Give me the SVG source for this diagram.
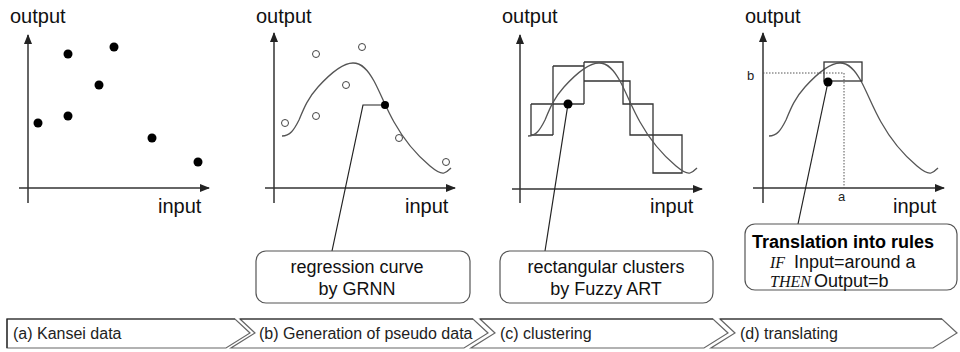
<svg xmlns="http://www.w3.org/2000/svg" width="960" height="352" viewBox="0 0 960 352">
<defs>
<marker id="arr" markerWidth="10" markerHeight="8" refX="9" refY="4" orient="auto" markerUnits="userSpaceOnUse">
<path d="M0,0 L10,4 L0,8 Z" fill="#222"/>
</marker>
<path id="curve" d="M282,136 C290,136 294,130 299,120 C304,108 308,98 318,87 C328,76 342,63 353,63 C362,63 368,70 374,81 C380,92 386,108 394,122 C404,140 418,156 430,166 C436,171 441,174 444,173 C447,172 449,170 451,168"/>
</defs>
<style>
.ax{stroke:#333;stroke-width:1.5;fill:none;marker-end:url(#arr)}
.lbl{font-family:"Liberation Sans",Arial,sans-serif;font-size:20px;fill:#111}
.sm{font-family:"Liberation Sans",Arial,sans-serif;font-size:13px;fill:#222}
.crv{stroke:#555;stroke-width:1.3;fill:none}
.dot{fill:#000}
.odot{fill:#fff;stroke:#444;stroke-width:1}
.lead{stroke:#222;stroke-width:1.2;fill:none}
.box{fill:#fff;stroke:#555;stroke-width:1.2}
.bt{font-family:"Liberation Sans",Arial,sans-serif;font-size:18px;fill:#111}
.bb{font-family:"Liberation Sans",Arial,sans-serif;font-size:18px;font-weight:bold;fill:#000}
.it{font-family:"Liberation Serif","Times New Roman",serif;font-style:italic;font-size:16px;fill:#111}
.chev{fill:#fff;stroke:#666;stroke-width:1.2}
.ctop{stroke:#222;stroke-width:1.2;fill:none}
.ct{font-family:"Liberation Sans",Arial,sans-serif;font-size:16px;fill:#222}
.rect{stroke:#333;stroke-width:1.3;fill:none}
.dotted{stroke:#555;stroke-width:1;stroke-dasharray:1.5,1.5;fill:none}
</style>

<g id="panel-a">
<line class="ax" x1="28" y1="203" x2="28" y2="35"/>
<line class="ax" x1="19" y1="188" x2="209" y2="188"/>
<text class="lbl" x="10" y="23">output</text>
<text class="lbl" x="158" y="213">input</text>
<circle class="dot" cx="38" cy="123" r="4.5"/>
<circle class="dot" cx="68" cy="54" r="4.5"/>
<circle class="dot" cx="114" cy="47" r="4.5"/>
<circle class="dot" cx="99" cy="85" r="4.5"/>
<circle class="dot" cx="68" cy="116" r="4.5"/>
<circle class="dot" cx="152" cy="138" r="4.5"/>
<circle class="dot" cx="198" cy="162" r="4.5"/>
</g>

<g id="panel-b">
<line class="ax" x1="274" y1="203" x2="274" y2="33"/>
<line class="ax" x1="265" y1="188" x2="455" y2="188"/>
<text class="lbl" x="256" y="23">output</text>
<text class="lbl" x="405" y="213">input</text>
<use href="#curve" class="crv"/>
<circle class="odot" cx="285" cy="123" r="3.5"/>
<circle class="odot" cx="316" cy="54" r="3.5"/>
<circle class="odot" cx="362" cy="47" r="3.5"/>
<circle class="odot" cx="346" cy="85" r="3.5"/>
<circle class="odot" cx="316" cy="116" r="3.5"/>
<circle class="odot" cx="399" cy="138" r="3.5"/>
<circle class="odot" cx="446" cy="162" r="3.5"/>
</g>

<g id="panel-c">
<line class="ax" x1="520" y1="203" x2="520" y2="35"/>
<line class="ax" x1="512" y1="189" x2="702" y2="189"/>
<text class="lbl" x="502" y="23">output</text>
<text class="lbl" x="650" y="213">input</text>
<path class="rect" d="M531,104 H584 M531,104 V135 H553 M553,66 V135 M553,66 H584 M584,62 V104 M584,62 H623 V104 H653 V173 H682 V135 H630 V81 H584"/>
<use href="#curve" class="crv" transform="translate(246,0)"/>
</g>

<g id="panel-d">
<line class="ax" x1="763" y1="203" x2="763" y2="33"/>
<line class="ax" x1="753" y1="188" x2="944" y2="188"/>
<text class="lbl" x="745" y="23">output</text>
<text class="lbl" x="893" y="213">input</text>
<text class="sm" x="747" y="80">b</text>
<text class="sm" x="838" y="201">a</text>
<path class="dotted" d="M763,73 H844 V188"/>
<use href="#curve" class="crv" transform="translate(487,0)"/>
<rect class="rect" x="824" y="62" width="38" height="19"/>
</g>

<g id="connectors">
<path class="lead" d="M385,105 H363 L332,251"/>
<path class="lead" d="M568,104 L545,251"/>
<path class="lead" d="M828,82 L798,224"/>
<circle class="dot" cx="385" cy="105" r="4"/>
<circle class="dot" cx="568" cy="104" r="4.5"/>
<circle class="dot" cx="828" cy="82" r="4.5"/>
</g>

<g id="box-b">
<rect class="box" x="256" y="251" width="214" height="52" rx="10"/>
<text class="bt" x="357" y="273" text-anchor="middle">regression curve</text>
<text class="bt" x="357" y="295" text-anchor="middle">by GRNN</text>
</g>

<g id="box-c">
<rect class="box" x="500" y="251" width="213" height="52" rx="10"/>
<text class="bt" x="606" y="273" text-anchor="middle">rectangular clusters</text>
<text class="bt" x="606" y="295" text-anchor="middle">by Fuzzy ART</text>
</g>

<g id="box-d">
<rect class="box" x="745" y="224" width="212" height="66" rx="10"/>
<text class="bb" x="752" y="248">Translation into rules</text>
<text class="it" x="770" y="268">IF</text>
<text class="bt" x="794" y="268">Input=around a</text>
<text class="it" x="770" y="287">THEN</text>
<text class="bt" x="814" y="287">Output=b</text>
</g>

<g id="step-a">
<polygon class="chev" points="7,319 235,319 250,333 226,348 7,348"/>
<path class="ctop" d="M7,348 V319 H235"/>
<text class="ct" x="13" y="339">(a) Kansei data</text>
</g>
<g id="step-b">
<polygon class="chev" points="240,319 473,319 488,333 464,348 231,348 255,333"/>
<path class="ctop" d="M240,319 H473"/>
<text class="ct" x="259" y="339">(b) Generation of pseudo data</text>
</g>
<g id="step-c">
<polygon class="chev" points="480,319 713,319 728,333 704,348 471,348 495,333"/>
<path class="ctop" d="M480,319 H713"/>
<text class="ct" x="500" y="339">(c) clustering</text>
</g>
<g id="step-d">
<polygon class="chev" points="720,319 942,319 957,333 933,348 711,348 735,333"/>
<path class="ctop" d="M720,319 H942"/>
<text class="ct" x="740" y="339">(d) translating</text>
</g>
</svg>
